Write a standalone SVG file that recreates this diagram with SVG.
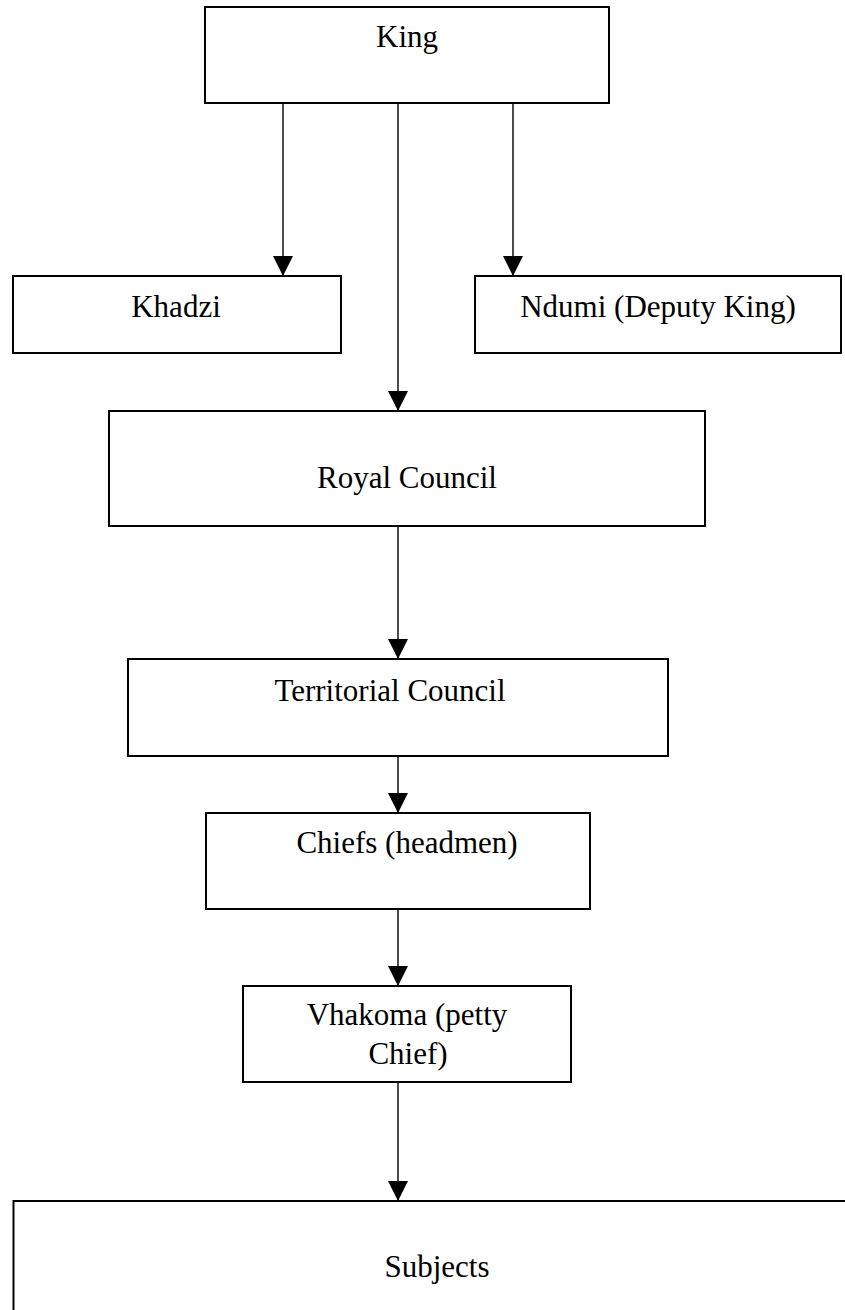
<svg xmlns="http://www.w3.org/2000/svg" width="845" height="1310" viewBox="0 0 845 1310">
<style>
.box{fill:#fff;stroke:#000;stroke-width:2}
.lbl{font-family:"Liberation Serif","Times New Roman",serif;font-size:31px;fill:#000;text-anchor:middle}
.conn{stroke:#000;stroke-width:1.4;fill:none;marker-end:url(#ah)}
</style>
<defs>
<marker id="ah" viewBox="0 0 20 20" refX="20" refY="10" markerWidth="20" markerHeight="20" markerUnits="userSpaceOnUse" orient="auto">
<path d="M0,0 L20,10 L0,20 z" fill="#000"/>
</marker>
</defs>
<rect width="845" height="1310" fill="#fff"/>
<g id="king"><rect class="box" x="205" y="7" width="404" height="96"/><text class="lbl" x="407" y="47">King</text></g>
<g id="khadzi"><rect class="box" x="13" y="276" width="328" height="77"/><text class="lbl" x="176" y="317">Khadzi</text></g>
<g id="ndumi"><rect class="box" x="475" y="276" width="366" height="77"/><text class="lbl" x="658" y="317">Ndumi (Deputy King)</text></g>
<g id="royal-council"><rect class="box" x="109" y="411" width="596" height="115"/><text class="lbl" x="407" y="488">Royal Council</text></g>
<g id="territorial-council"><rect class="box" x="128" y="659" width="540" height="97"/><text class="lbl" x="390" y="701">Territorial Council</text></g>
<g id="chiefs"><rect class="box" x="206" y="813" width="384" height="96"/><text class="lbl" x="407" y="853">Chiefs (headmen)</text></g>
<g id="vhakoma"><rect class="box" x="243" y="986" width="328" height="96"/><text class="lbl" x="407" y="1025">Vhakoma (petty</text><text class="lbl" x="408" y="1064">Chief)</text></g>
<g id="subjects"><rect class="box" x="13.5" y="1201" width="900" height="200"/><text class="lbl" x="437" y="1277">Subjects</text></g>
<g id="connectors">
<line class="conn" x1="283" y1="103" x2="283" y2="276"/>
<line class="conn" x1="398" y1="103" x2="398" y2="411"/>
<line class="conn" x1="513" y1="103" x2="513" y2="276"/>
<line class="conn" x1="398" y1="526" x2="398" y2="659"/>
<line class="conn" x1="398" y1="756" x2="398" y2="813"/>
<line class="conn" x1="398" y1="909" x2="398" y2="986"/>
<line class="conn" x1="398" y1="1082" x2="398" y2="1201"/>
</g>
</svg>
